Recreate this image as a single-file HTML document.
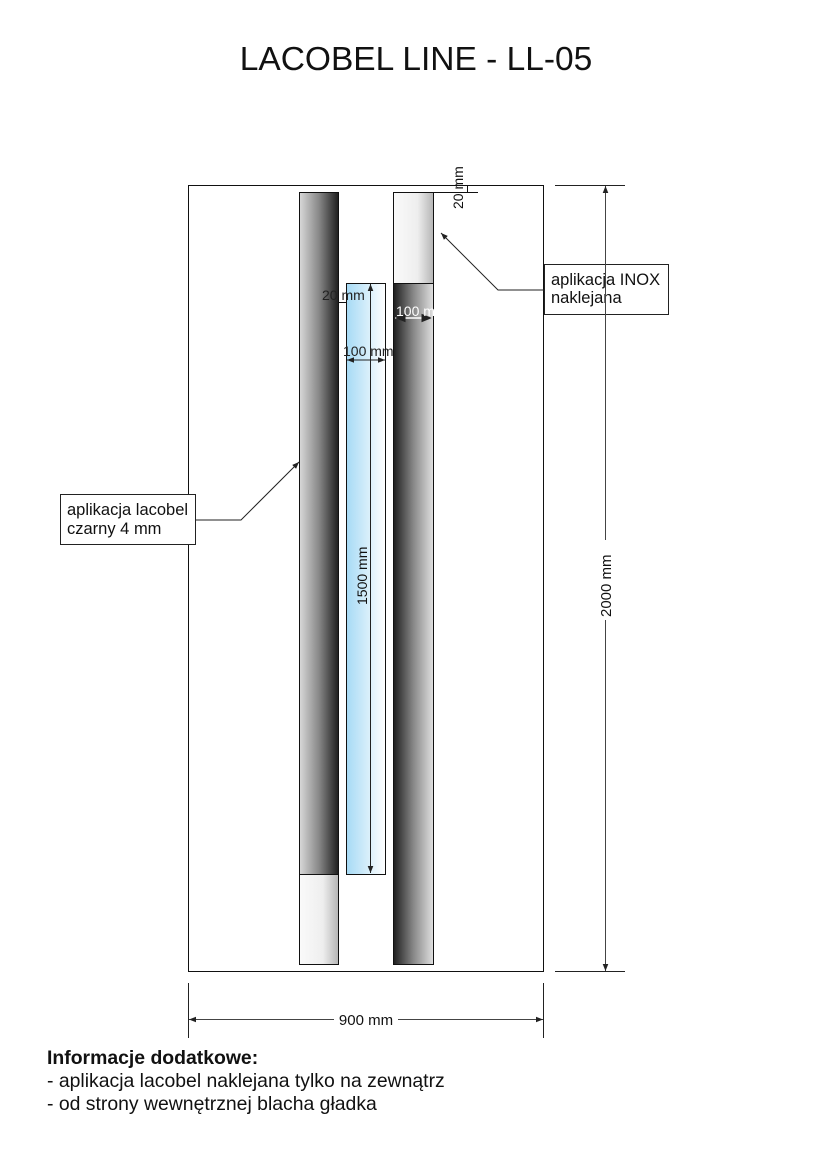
<!DOCTYPE html>
<html><head><meta charset="utf-8"><style>
body{margin:0;background:#fff;}
svg{display:block;font-family:"Liberation Sans",Arial,sans-serif;}
</style></head><body>
<svg width="826" height="1169" viewBox="0 0 826 1169" xmlns="http://www.w3.org/2000/svg">
<defs>
<linearGradient id="dk1" x1="0" x2="1"><stop offset="0" stop-color="#d8d8d8"/><stop offset="0.5" stop-color="#888"/><stop offset="1" stop-color="#1e1e1e"/></linearGradient>
<linearGradient id="dk2" x1="0" x2="1"><stop offset="0" stop-color="#1e1e1e"/><stop offset="0.5" stop-color="#888"/><stop offset="1" stop-color="#e0e0e0"/></linearGradient>
<linearGradient id="lt1" x1="0" x2="1"><stop offset="0" stop-color="#fafafa"/><stop offset="0.6" stop-color="#eee"/><stop offset="1" stop-color="#b5b5b5"/></linearGradient>
<linearGradient id="bl" x1="0" x2="1"><stop offset="0" stop-color="#a6daf5"/><stop offset="1" stop-color="#ffffff"/></linearGradient>
<marker id="ar" viewBox="0 0 10 10" refX="10" refY="5" markerWidth="7" markerHeight="7" orient="auto-start-reverse"><path d="M0,1 L10,5 L0,9 z" fill="#222"/></marker>
</defs>
<text x="416" y="70" font-size="33.5" text-anchor="middle" fill="#111">LACOBEL LINE - LL-05</text>
<rect x="188.5" y="185.5" width="355" height="786" fill="none" stroke="#111"/>
<line x1="433" y1="192.5" x2="478" y2="192.5" stroke="#111"/>
<line x1="467.5" y1="185" x2="467.5" y2="192" stroke="#111"/>
<text transform="translate(463,209) rotate(-90)" font-size="14" fill="#111">20 mm</text>
<rect x="299.5" y="192.5" width="39" height="682" fill="url(#dk1)" stroke="#111"/>
<rect x="299.5" y="874.5" width="39" height="90" fill="url(#lt1)" stroke="#111"/>
<rect x="393.5" y="192.5" width="40" height="91" fill="url(#lt1)" stroke="#111"/>
<rect x="393.5" y="283.5" width="40" height="681" fill="url(#dk2)" stroke="#111"/>
<rect x="346.5" y="283.5" width="39" height="591" fill="url(#bl)" stroke="#111"/>
<line x1="370.5" y1="284" x2="370.5" y2="873" stroke="#222" marker-start="url(#ar)" marker-end="url(#ar)"/>
<text transform="translate(367,605) rotate(-90)" font-size="14" fill="#111">1500 mm</text>
<line x1="338" y1="302.5" x2="346" y2="302.5" stroke="#111"/>
<text x="322" y="300" font-size="14" fill="#222">20 mm</text>
<line x1="347" y1="360" x2="385" y2="360" stroke="#222" marker-start="url(#ar)" marker-end="url(#ar)"/>
<text x="343" y="356" font-size="14" fill="#222">100 mm</text>
<line x1="395" y1="318" x2="432" y2="318" stroke="#fff" stroke-width="1.5" marker-start="url(#ar)" marker-end="url(#ar)"/>
<text x="396" y="316" font-size="14" fill="#fff">100 mm</text>
<polyline points="441,233 498,290 544,290" fill="none" stroke="#222" marker-start="url(#ar)"/>
<rect x="544.5" y="264.5" width="124" height="50" fill="#fff" stroke="#222"/>
<text x="551" y="285" font-size="16.5" fill="#111">aplikacja INOX</text>
<text x="551" y="303" font-size="16.5" fill="#111">naklejana</text>
<polyline points="299,462 241,520 196,520" fill="none" stroke="#222" marker-start="url(#ar)"/>
<rect x="60.5" y="494.5" width="135" height="50" fill="#fff" stroke="#222"/>
<text x="67" y="515" font-size="16.5" fill="#111">aplikacja lacobel</text>
<text x="67" y="534" font-size="16.5" fill="#111">czarny 4 mm</text>
<line x1="555" y1="185.5" x2="625" y2="185.5" stroke="#222"/>
<line x1="555" y1="971.5" x2="625" y2="971.5" stroke="#222"/>
<line x1="605.5" y1="186" x2="605.5" y2="971" stroke="#444" marker-start="url(#ar)" marker-end="url(#ar)"/>
<rect x="598" y="540" width="15" height="80" fill="#fff"/>
<text transform="translate(611,617) rotate(-90)" font-size="15" fill="#111">2000 mm</text>
<line x1="188.5" y1="983" x2="188.5" y2="1038" stroke="#222"/>
<line x1="543.5" y1="983" x2="543.5" y2="1038" stroke="#222"/>
<line x1="189" y1="1019.5" x2="543" y2="1019.5" stroke="#444" marker-start="url(#ar)" marker-end="url(#ar)"/>
<rect x="334" y="1011" width="64" height="16" fill="#fff"/>
<text x="366" y="1025" font-size="15" text-anchor="middle" fill="#111">900 mm</text>
<text x="47" y="1064" font-size="19.4" font-weight="bold" fill="#111">Informacje dodatkowe:</text>
<text x="47" y="1087" font-size="19.4" fill="#111">- aplikacja lacobel naklejana tylko na zewnątrz</text>
<text x="47" y="1110" font-size="19.4" fill="#111">- od strony wewnętrznej blacha gładka</text>
</svg>
</body></html>
